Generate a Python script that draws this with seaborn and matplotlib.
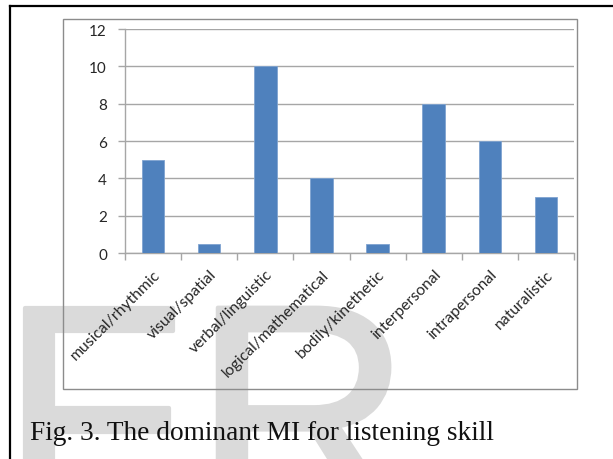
import numpy as np
import seaborn as sns
import matplotlib.pyplot as plt
import matplotlib.patheffects as pe
from matplotlib.patches import Rectangle
from matplotlib.lines import Line2D

# Data
categories = ['musical/rhythmic', 'visual/spatial', 'verbal/linguistic',
              'logical/mathematical', 'bodily/kinethetic', 'interpersonal',
              'intrapersonal', 'naturalistic']
values = [5, 0.5, 10, 4, 0.5, 8, 6, 3]
y_ticks = [0, 2, 4, 6, 8, 10, 12]
caption = 'Fig. 3. The dominant MI for listening skill'

W, H = 613, 460
fig = plt.figure(figsize=(W / 100, H / 100), dpi=100)

def fx(px):
    return px / W

def fy(py):
    return 1 - py / H

# plot area (Excel style)
ax = fig.add_axes([fx(125), fy(254), fx(574) - fx(125), fy(30) - fy(254)])
ax.set_facecolor('none')
sns.barplot(x=categories, y=values, color='#4f81bd', saturation=1, width=0.4,
            edgecolor='#7fa3d0', linewidth=0.6, ax=ax, zorder=3)

grid_c = '#a6a6a6'
ax.set_ylim(0, 12)
ax.set_xlim(-0.5, len(categories) - 0.5)
ax.set_yticks(y_ticks)
ax.yaxis.grid(True, color=grid_c, linewidth=1)
ax.set_axisbelow(True)
for s in ['top', 'right']:
    ax.spines[s].set_visible(False)
for s in ['left', 'bottom']:
    ax.spines[s].set_color(grid_c)
    ax.spines[s].set_linewidth(1)

ax.set_xticks(np.arange(len(categories)))
ax.set_xticklabels(categories, rotation=45, ha='right', rotation_mode='anchor',
                   fontsize=11.3, color='#262626', family='Lato')
ax.set_xticks(np.arange(-0.5, len(categories), 1), minor=True)
ax.tick_params(axis='x', which='major', length=0, pad=10)
ax.tick_params(axis='x', which='minor', length=5, color=grid_c, width=1)
ax.tick_params(axis='y', length=5, color=grid_c, width=1, pad=8,
               labelsize=11, labelcolor='#262626')
for lab in ax.get_yticklabels():
    lab.set_family('Lato')
ax.set_xlabel('')
ax.set_ylabel('')

# chart frame
fig.patches.append(Rectangle((fx(63), fy(390)), fx(577) - fx(63), fy(20) - fy(390),
                             transform=fig.transFigure, fill=False,
                             edgecolor='#8c8c8c', linewidth=1))

# page border lines
fig.lines.append(Line2D([fx(10), fx(10)], [fy(7), fy(460)], transform=fig.transFigure,
                        color='black', linewidth=1.6))
fig.lines.append(Line2D([fx(10), fx(613)], [fy(7), fy(7)], transform=fig.transFigure,
                        color='black', linewidth=1.6))

# watermark letters
wm = '#dadada'
for letter, x0 in [('F', 0), ('R', 193)]:
    fig.text(fx(x0), fy(517), letter, fontsize=218, family='Liberation Sans',
             color=wm, ha='left', va='baseline', zorder=-5,
             path_effects=[pe.withStroke(linewidth=3, foreground=wm)])

# caption
fig.text(fx(30), fy(440), caption, fontsize=19.7, family='Liberation Serif',
         color='#111111', ha='left', va='baseline')

fig.savefig('out.png', dpi=100)
